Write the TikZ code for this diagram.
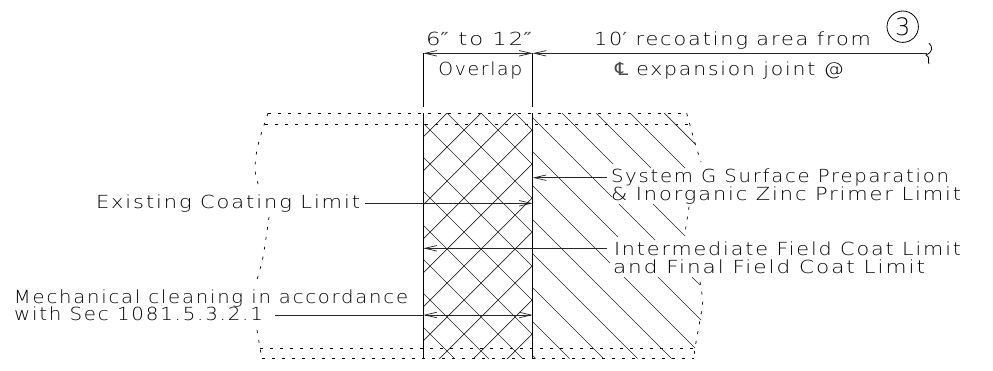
\documentclass[tikz,border=0pt]{standalone}
\usepackage{fontspec}
\usepackage{graphicx}
\setmainfont{DejaVu Sans}[UprightFont=* ExtraLight,LetterSpace=9]
\newfontfamily\clfont{DejaVu Sans}
\usetikzlibrary{arrows.meta}
\newcommand{\cad}[2]{\resizebox{#1pt}{\height}{#2}}
\newcommand{\prm}[1]{{\clfont\color{black!70}#1}}
\tikzset{
  cadlabel/.style={anchor=base west,inner sep=0pt,outer sep=0pt,font=\fontsize{18pt}{20pt}\selectfont,text=black},
  hatchline/.style={line width=0.7pt,black!85},
  wall/.style={line width=0.9pt,black},
  dotline/.style={line width=0.7pt,dash pattern=on 3pt off 7pt,black},
  leader/.style={line width=0.9pt,black!85,>={Straight Barb[length=12pt,width=5.5pt,line width=0.7pt]}}
}
\begin{document}
\begin{tikzpicture}[x=1pt,y=-1pt]
\useasboundingbox[fill=white] (0,0) rectangle (993,370);
% dotted outline
\draw[dotline] (268,113.3) -- (686.7,113.3);
\draw[dotline] (265,124.3) -- (688,124.3);
\draw[dotline] (260,348) -- (695,348);
\draw[dotline] (262,358.5) -- (694,358.5);
\draw[dotline] plot[smooth] coordinates {(268,113.3) (258,145) (255,170) (260,190)};
\draw[dotline] plot[smooth] coordinates {(269,217) (263,257) (256,283)};
\draw[dotline] plot[smooth] coordinates {(257,330) (260,348) (262,358.5)};
\draw[dotline] plot[smooth] coordinates {(686.7,113.3) (695,143) (701,162)};
\draw[dotline] plot[smooth] coordinates {(689,206.7) (685,233)};
\draw[dotline] plot[smooth] coordinates {(700,281.7) (702.7,301.7) (700,320) (695,348) (694,358.5)};
% cross hatch
\begin{scope}
\clip (423.3,113.3) rectangle (532.7,358.5);
\foreach \c in {96,130,164,198,232,266,300,334,368,402}
  \draw[hatchline] ({\c+100},100) -- ({\c+370},370);
\foreach \d in {560,594,628,662,696,730,764,798,832,866}
  \draw[hatchline] ({\d-100},100) -- ({\d-370},370);
\end{scope}
% single hatch
\foreach \c/\a/\b in {551/113.3/144,517/113.3/168,483/113.3/168,449/113.3/164,449/204/236,
  415/117.7/197,415/204/240,415/277/285,381/151.7/237,381/277/320,347/185.7/263,347/277/348,
  313/219.7/358.5,279/253.7/358.5,245/287.7/358.5,211/321.7/358.5,177/355.7/358.5}
  \draw[hatchline] ({\c+\a},\a) -- ({\c+\b},\b);
% extension lines and named points
\coordinate (dimL) at (423.3,53.3);
\coordinate (dimM) at (532.7,53.3);
\coordinate (dimR) at (927,53.3);
\coordinate (extLb) at (423.3,107);
\coordinate (extMb) at (532.7,107);
\coordinate (wallLt) at (423.3,113);
\coordinate (wallLb) at (423.3,358.5);
\coordinate (wallRt) at (532.7,113);
\coordinate (wallRb) at (532.7,358.5);
\draw[wall] (dimL) -- (extLb);
\draw[wall] (dimM) -- (extMb);
\draw[wall] (wallLt) -- (wallLb);
\draw[wall] (wallRt) -- (wallRb);
\draw[leader,<->] (dimL) -- (dimM);
\draw[leader,<-] (dimM) -- (dimR);
\draw[line width=0.8pt] (929,43) .. controls (933,47) and (933,52) .. (926,55) .. controls (931,57) and (927,62) .. (929,64);
% labels
\node[cadlabel] (t1) at (426,45) {\cad{106}{6\prm{″} to 12\prm{″}}};
\node[cadlabel] (t2) at (594,45) {\cad{277}{10\prm{′} recoating area from}};
\node[cadlabel] (t3) at (438.3,75) {\cad{84}{Overlap}};
\node[cadlabel] (t4) at (615,75) {\cad{229}{\prm{℄} expansion joint @}};
\node[draw,circle,line width=0.8pt,minimum size=31.4pt,inner sep=0pt,font=\fontsize{24pt}{25pt}\selectfont] (c3) at (902.7,26.7) {3};
\node[cadlabel] (sys1) at (611,182.7) {\cad{338}{System G Surface Preparation}};
\node[cadlabel] (sys2) at (611,200.7) {\cad{350}{\& Inorganic Zinc Primer Limit}};
\node[cadlabel] (int1) at (614,255) {\cad{347}{Intermediate Field Coat Limit}};
\node[cadlabel] (int2) at (613,273) {\cad{312}{and Final Field Coat Limit}};
\node[cadlabel] (ex) at (96,208) {\cad{264}{Existing Coating Limit}};
\node[cadlabel] (me1) at (14,303) {\cad{394}{Mechanical cleaning in accordance}};
\node[cadlabel] (me2) at (14,320) {\cad{249}{with Sec 1081.5.3.2.1}};
% leaders
\coordinate (sysS) at (607,177.7);
\coordinate (sysT) at (532.7,177.7);
\coordinate (exS) at (365,203.3);
\coordinate (exT) at (532.7,203.3);
\coordinate (intS) at (607,248.3);
\coordinate (intT) at (423.3,248.3);
\coordinate (meS) at (275,315);
\coordinate (meL) at (423.3,315);
\coordinate (meR) at (532.7,315);
\draw[leader,->] (sysS) -- (sysT);
\draw[leader,->] (exS) -- (exT);
\draw[leader,->] (intS) -- (intT);
\draw[leader] (meS) -- (meL);
\draw[leader,<->] (meL) -- (meR);
\end{tikzpicture}
\end{document}
